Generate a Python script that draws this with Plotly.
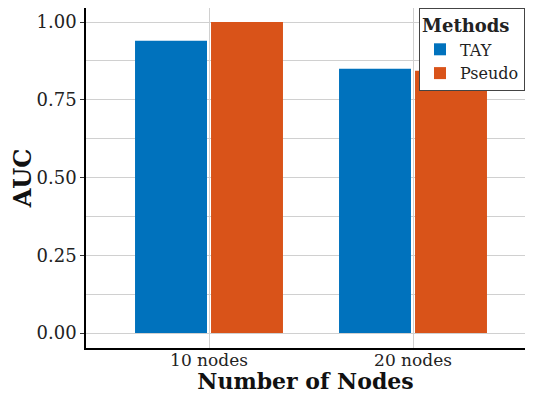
import plotly.graph_objects as go

categories = ["10 nodes", "20 nodes"]
tay_values = [0.94, 0.85]
pseudo_values = [1.00, 0.843]
y_ticks = [0.0, 0.25, 0.5, 0.75, 1.0]
y_tick_labels = ["0.00", "0.25", "0.50", "0.75", "1.00"]

FONT = "DejaVu Serif"

fig = go.Figure()
fig.add_trace(go.Bar(x=categories, y=tay_values, name="TAY", marker=dict(color="#0072BD", line=dict(width=0))))
fig.add_trace(go.Bar(x=categories, y=pseudo_values, name="Pseudo", marker=dict(color="#D95319", line=dict(width=0))))

fig.update_layout(
    width=517, height=386,
    margin=dict(l=78, r=0, t=0, b=46, autoexpand=False),
    plot_bgcolor="white", paper_bgcolor="white",
    barmode="group", bargap=0.255, bargroupgap=0.053,
    font=dict(family=FONT, color="#222", size=18),
    legend=dict(
        title=dict(text="<b>Methods</b>", font=dict(size=18, family=FONT, color="#222")),
        x=1, y=1, xanchor="right", yanchor="top",
        bordercolor="#444", borderwidth=1, bgcolor="white",
        font=dict(size=16, family=FONT, color="#222"),
        tracegroupgap=0, itemwidth=30,
    ),
    xaxis=dict(
        range=[-0.603, 1.549], automargin=True,
        showline=True, linecolor="black", linewidth=1.5,
        showgrid=True, gridcolor="#d0d0d0", gridwidth=1,
        ticks="", ticklabelstandoff=-4,
        tickfont=dict(size=17, family=FONT, color="#222"),
        title=dict(text="<b>Number of Nodes</b>", font=dict(size=22, family=FONT, color="#111"), standoff=2),
    ),
    yaxis=dict(
        range=[-0.048, 1.045], automargin=False,
        tickvals=y_ticks, ticktext=y_tick_labels,
        showline=True, linecolor="black", linewidth=1.5,
        showgrid=True, gridcolor="#d0d0d0", gridwidth=1,
        zeroline=False,
        ticks="outside", ticklen=4, tickcolor="#333",
        tickfont=dict(size=18, family=FONT, color="#222"),
        minor=dict(tickmode="linear", tick0=0.125, dtick=0.25, showgrid=True, gridcolor="#d0d0d0", gridwidth=1, ticks=""),
        title=dict(text="<b>AUC</b>", font=dict(size=24, family=FONT, color="#111"), standoff=6),
    ),
)

fig.write_html("out.html")
